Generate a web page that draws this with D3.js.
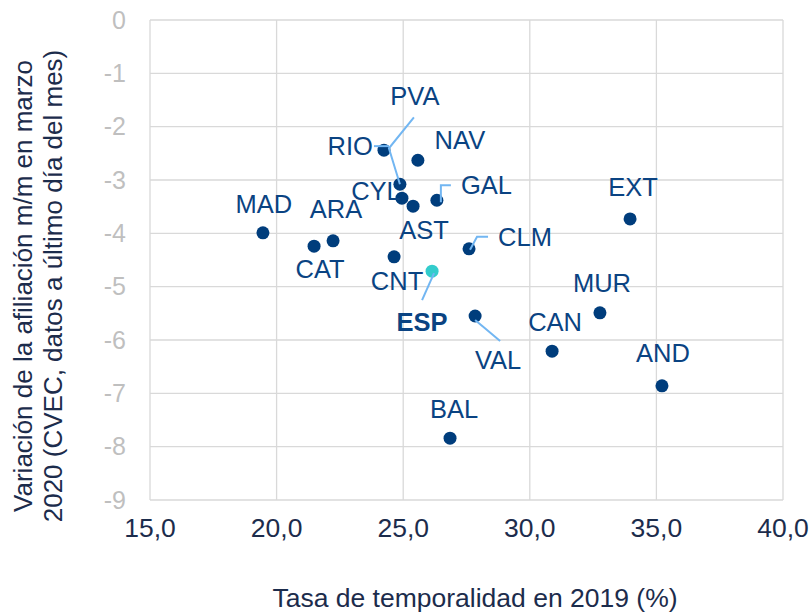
<!DOCTYPE html>
<html>
<head>
  <meta charset="utf-8">
  <title>Temporalidad vs afiliación</title>
  <script src="https://d3js.org/d3.v7.min.js"></script>
  <style>
    body { margin: 0; background: #fff; }
    text { font-family: "Liberation Sans", Arial, sans-serif; }
  </style>
</head>
<body>
  <svg id="chart"></svg>

  <script>
    // datos: tasa de temporalidad 2019 (%) y variación de afiliación m/m marzo 2020
    const regiones = ["PVA", "RIO", "NAV", "CYL", "AST", "GAL", "MAD", "ARA", "CAT", "CNT",
                      "ESP", "CLM", "VAL", "MUR", "CAN", "AND", "BAL", "EXT"];
    const tasa = [24.87, 24.24, 25.58, 24.95, 25.39, 26.33, 19.46, 22.23, 21.48, 24.64,
                  26.14, 27.60, 27.84, 32.77, 30.88, 35.22, 26.85, 33.96];
    const variacion = [-3.08, -2.44, -2.63, -3.34, -3.49, -3.38, -3.99, -4.14, -4.24, -4.44,
                       -4.71, -4.29, -5.55, -5.49, -6.21, -6.86, -7.84, -3.73];
    const xTicks = [15, 20, 25, 30, 35, 40];
    const yTicks = [0, -1, -2, -3, -4, -5, -6, -7, -8, -9];

    const width = 811;
    const height = 613;
    const svg = d3.select("#chart")
      .attr("width", width)
      .attr("height", height);

    const x = d3.scaleLinear().domain([15, 40]).range([150, 783]);
    const y = d3.scaleLinear().domain([-9, 0]).range([500, 20]);

    // posición de etiquetas (dx, dy, anchor) y líneas guía
    const etiquetas = {
      PVA: [15, -88, "middle"], RIO: [-11, -4, "end"], NAV: [42, -20, "middle"],
      CYL: [-26, -7, "middle"], AST: [11, 24, "middle"], GAL: [24, -15, "start"],
      MAD: [1, -29, "middle"], ARA: [3, -32, "middle"], CAT: [6, 23, "middle"],
      CNT: [3, 24, "middle"], ESP: [-10, 51, "middle"], CLM: [29, -12, "start"],
      VAL: [23, 44, "middle"], MUR: [2, -30, "middle"], CAN: [3, -29, "middle"],
      AND: [1, -33, "middle"], BAL: [4, -29, "middle"], EXT: [3, -32, "middle"]
    };
    const guias = {
      PVA: [[14, -67], [-11, -36], [0, 0]],
      RIO: [[-10, -4], [5, -4]],
      GAL: [[4, 2], [4, -15], [14, -15]],
      CLM: [[1, 1], [8, -12], [19, -12]],
      ESP: [[2, 2], [-10, 29]],
      VAL: [[0, 4], [25, 25]]
    };

    const data = regiones.map((r, i) => ({ name: r, x: tasa[i], y: variacion[i] }));

    // rejilla horizontal
    svg.append("g")
      .selectAll("line")
      .data(yTicks)
      .join("line")
      .attr("x1", x(15)).attr("x2", x(40))
      .attr("y1", d => y(d)).attr("y2", d => y(d))
      .attr("stroke", "#d9d9d9").attr("stroke-width", 1.3);

    // rejilla vertical
    svg.append("g")
      .selectAll("line")
      .data(xTicks)
      .join("line")
      .attr("x1", d => x(d)).attr("x2", d => x(d))
      .attr("y1", y(0)).attr("y2", y(-9))
      .attr("stroke", "#d9d9d9").attr("stroke-width", 1.3);

    // etiquetas de ejes
    svg.append("g")
      .selectAll("text")
      .data(yTicks)
      .join("text")
      .attr("x", 126)
      .attr("y", d => y(d))
      .attr("dy", "0.35em")
      .attr("text-anchor", "end")
      .attr("font-size", 25)
      .attr("fill", "#bfbfbf")
      .text(d => d);

    svg.append("g")
      .selectAll("text")
      .data(xTicks)
      .join("text")
      .attr("x", d => x(d))
      .attr("y", 528)
      .attr("dy", "0.35em")
      .attr("text-anchor", "middle")
      .attr("font-size", 26.5)
      .attr("fill", "#1c2c4c")
      .text(d => d.toFixed(1).replace(".", ","));

    svg.append("text")
      .attr("x", 475)
      .attr("y", 598)
      .attr("dy", "0.35em")
      .attr("text-anchor", "middle")
      .attr("font-size", 26.5)
      .attr("fill", "#1c2c4c")
      .text("Tasa de temporalidad en 2019 (%)");

    const yTitle = svg.append("text")
      .attr("transform", "translate(38,286) rotate(-90)")
      .attr("text-anchor", "middle")
      .attr("font-size", 26)
      .attr("fill", "#1c2c4c");
    yTitle.append("tspan").attr("x", 0).attr("dy", "-0.25em")
      .text("Variación de la afiliación m/m en marzo");
    yTitle.append("tspan").attr("x", 0).attr("dy", "1.18em")
      .text("2020 (CVEC, datos a último día del mes)");

    // puntos
    svg.append("g")
      .selectAll("circle")
      .data(data)
      .join("circle")
      .attr("cx", d => x(d.x))
      .attr("cy", d => y(d.y))
      .attr("r", 6.5)
      .attr("fill", d => d.name === "ESP" ? "#33cccc" : "#003d7c");

    // líneas guía
    const line = d3.line();
    svg.append("g")
      .selectAll("path")
      .data(data.filter(d => guias[d.name]))
      .join("path")
      .attr("d", d => line(guias[d.name].map(p => [x(d.x) + p[0], y(d.y) + p[1]])))
      .attr("fill", "none")
      .attr("stroke", "#72b6f2")
      .attr("stroke-width", 2);

    // etiquetas de puntos
    svg.append("g")
      .selectAll("text")
      .data(data)
      .join("text")
      .attr("x", d => x(d.x) + etiquetas[d.name][0])
      .attr("y", d => y(d.y) + etiquetas[d.name][1])
      .attr("dy", "0.35em")
      .attr("text-anchor", d => etiquetas[d.name][2])
      .attr("font-size", 25.5)
      .attr("font-weight", d => d.name === "ESP" ? "bold" : "normal")
      .attr("fill", "#0a4382")
      .text(d => d.name);
  </script>
</body>
</html>
